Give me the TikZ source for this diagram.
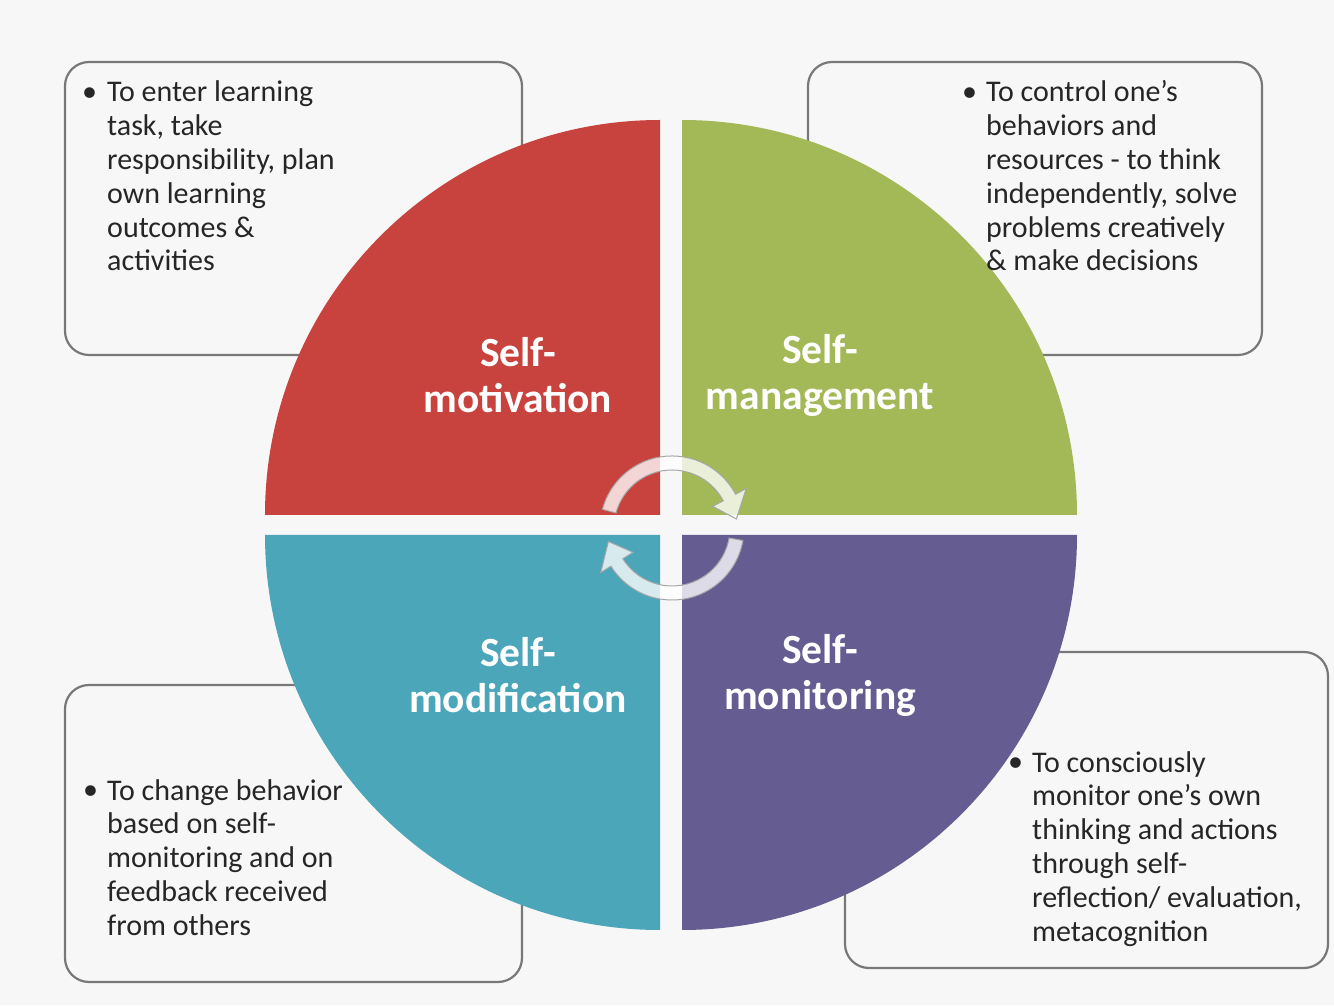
\documentclass[tikz,border=0pt]{standalone}
\usepackage{fontspec}
\setmainfont{Carlito}
\definecolor{qred}{RGB}{200,66,62}
\definecolor{qgreen}{RGB}{163,185,88}
\definecolor{qteal}{RGB}{76,166,186}
\definecolor{qpurple}{RGB}{101,93,146}
\definecolor{bgc}{RGB}{247,247,247}
\definecolor{boxline}{RGB}{120,120,120}
\begin{document}
\begin{tikzpicture}[x=1pt,y=1pt,
 infobox/.style={draw=boxline, line width=2.2pt, rounded corners=24pt, fill=bgc, inner sep=0pt},
 bodytext/.style={anchor=base west, align=left, inner sep=0pt, font=\fontsize{30}{33.8}\selectfont, text=black!85},
 bul/.style={anchor=base west, inner sep=0pt, font=\fontsize{30}{33.8}\selectfont, text=black!85},
 qlabel/.style={align=center, text=white, font=\bfseries\fontsize{41.5}{46}\selectfont, inner sep=0pt},
 ringarrow/.style={fill=white, fill opacity=0.78, draw=gray!70, line width=1pt}]
\useasboundingbox[fill=bgc] (0,0) rectangle (1334,1005);

% info boxes
\node[infobox, minimum width=457pt, minimum height=293pt] (box1) at (293.5,796.5) {};
\node[infobox, minimum width=454pt, minimum height=293pt] (box2) at (1035,796.5) {};
\node[infobox, minimum width=457pt, minimum height=297pt] (box3) at (293.5,171.5) {};
\node[infobox, minimum width=483pt, minimum height=316pt] (box4) at (1086.5,195) {};

% quadrants
\fill[qred] (660,490) -- (265,490) arc[start angle=180, end angle=90, radius=395] -- cycle;
\fill[qgreen] (682,490) -- (682,885) arc[start angle=90, end angle=0, radius=395] -- cycle;
\fill[qteal] (660,470) -- (265,470) arc[start angle=180, end angle=270, radius=395] -- cycle;
\fill[qpurple] (682,470) -- (1077,470) arc[start angle=0, end angle=-90, radius=395] -- cycle;

% quadrant labels
\node[qlabel] (lab1) at (518,630) {Self-\\motivation};
\node[qlabel] (lab2) at (820,630) {Self-\\management};
\node[qlabel] (lab3) at (518,330) {Self-\\modification};
\node[qlabel] (lab4) at (820,330) {Self-\\monitoring};

% central circular arrows
\begin{scope}[shift={(672,477)}]
\filldraw[ringarrow] (165:72) arc[start angle=165, end angle=28, radius=72] -- (28:84) -- (8:65) -- (28:46) -- (28:58) arc[start angle=28, end angle=165, radius=58] -- cycle;
\filldraw[ringarrow] (-10:72) arc[start angle=-10, end angle=-148, radius=72] -- (-148:84) -- (-168:65) -- (-148:46) -- (-148:58) arc[start angle=-148, end angle=-10, radius=58] -- cycle;
\end{scope}

% texts (base anchor = baseline of the last line)
\node[bul] (b1) at (82,903) {\textbullet};
\node[bodytext] (t1) at (107,734) {To enter learning\\task, take\\responsibility, plan\\own learning\\outcomes \&\\activities};
\node[bul] (b2) at (962,903) {\textbullet};
\node[bodytext] (t2) at (986,734) {To control one's\\behaviors and\\resources - to think\\independently, solve\\problems creatively\\\& make decisions};
\node[bul] (b3) at (83,205) {\textbullet};
\node[bodytext] (t3) at (107,69.8) {To change behavior\\based on self-\\monitoring and on\\feedback received\\from others};
\node[bul] (b4) at (1008,233) {\textbullet};
\node[bodytext] (t4) at (1032,64) {To consciously\\monitor one's own\\thinking and actions\\through self-\\reflection/ evaluation,\\metacognition};
\end{tikzpicture}
\end{document}
